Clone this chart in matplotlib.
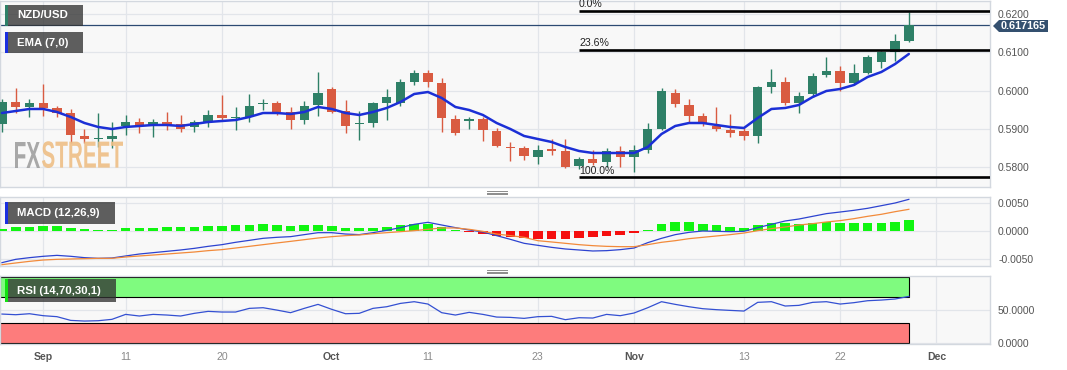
import numpy as np
import pandas as pd
import matplotlib
matplotlib.use("Agg")
import matplotlib.pyplot as plt
from matplotlib.patches import Rectangle, Polygon, PathPatch
from matplotlib.lines import Line2D
from matplotlib.textpath import TextPath
from matplotlib.font_manager import FontProperties
from matplotlib.transforms import Affine2D, IdentityTransform

plt.rcParams['font.family'] = ['Liberation Sans', 'DejaVu Sans']

# ---------------- data ----------------
start_date = "2023-08-29"
end_axis_date = "2023-12-01"

opens = [0.5913, 0.5970, 0.5957, 0.5968, 0.5955, 0.5942, 0.5882, 0.5874, 0.5874, 0.5908,
         0.5918, 0.5908, 0.5918, 0.5913, 0.5905, 0.5918, 0.5936, 0.5929, 0.5931, 0.5965,
         0.5968, 0.5944, 0.5923, 0.5962, 0.6004, 0.5947, 0.5913, 0.5915, 0.5968, 0.5968,
         0.6022, 0.6046, 0.6020, 0.5926, 0.5921, 0.5926, 0.5894, 0.5853, 0.5850, 0.5827,
         0.5848, 0.5842, 0.5803, 0.5821, 0.5814, 0.5842, 0.5827, 0.5845, 0.5900, 0.5994,
         0.5962, 0.5934, 0.5908, 0.5897, 0.5895, 0.5882, 0.6009, 0.6022, 0.5968, 0.5991,
         0.6041, 0.6051, 0.6020, 0.6046, 0.6075, 0.6101, 0.6130]
highs = [0.5978, 0.6007, 0.5978, 0.6017, 0.5960, 0.5952, 0.5900, 0.5942, 0.5918, 0.5936,
         0.5929, 0.5926, 0.5944, 0.5936, 0.5923, 0.5949, 0.5988, 0.5957, 0.5991, 0.5978,
         0.5973, 0.5957, 0.5973, 0.6049, 0.6009, 0.5975, 0.5947, 0.5970, 0.6004, 0.6030,
         0.6054, 0.6054, 0.6033, 0.5936, 0.5931, 0.5931, 0.5902, 0.5866, 0.5855, 0.5858,
         0.5874, 0.5874, 0.5827, 0.5845, 0.5850, 0.5855, 0.5858, 0.5915, 0.6007, 0.6004,
         0.5978, 0.5942, 0.5957, 0.5939, 0.5902, 0.6012, 0.6056, 0.6036, 0.5996, 0.6046,
         0.6088, 0.6064, 0.6069, 0.6093, 0.6103, 0.6148, 0.6205]
lows = [0.5892, 0.5941, 0.5931, 0.5934, 0.5931, 0.5863, 0.5863, 0.5853, 0.5850, 0.5884,
        0.5889, 0.5879, 0.5897, 0.5892, 0.5892, 0.5905, 0.5923, 0.5897, 0.5918, 0.5949,
        0.5936, 0.5900, 0.5913, 0.5934, 0.5942, 0.5889, 0.5871, 0.5905, 0.5923, 0.5960,
        0.6015, 0.6009, 0.5892, 0.5884, 0.5900, 0.5868, 0.5853, 0.5816, 0.5819, 0.5808,
        0.5832, 0.5798, 0.5795, 0.5806, 0.5801, 0.5801, 0.5788, 0.5837, 0.5897, 0.5957,
        0.5915, 0.5908, 0.5895, 0.5879, 0.5871, 0.5863, 0.5994, 0.5962, 0.5942, 0.5983,
        0.6036, 0.5999, 0.6015, 0.6043, 0.6059, 0.6077, 0.6127]
closes = [0.5970, 0.5957, 0.5968, 0.5955, 0.5942, 0.5884, 0.5874, 0.5876, 0.5882, 0.5918,
          0.5908, 0.5918, 0.5910, 0.5900, 0.5918, 0.5936, 0.5928, 0.5931, 0.5960, 0.5968,
          0.5944, 0.5923, 0.5960, 0.5994, 0.5944, 0.5908, 0.5915, 0.5968, 0.5983, 0.6022,
          0.6046, 0.6022, 0.5928, 0.5889, 0.5926, 0.5897, 0.5855, 0.5850, 0.5829, 0.5845,
          0.5842, 0.5801, 0.5821, 0.5811, 0.5842, 0.5827, 0.5845, 0.5900, 0.5999, 0.5965,
          0.5934, 0.5915, 0.5900, 0.5889, 0.5882, 0.6009, 0.6022, 0.5968, 0.5986, 0.6038,
          0.6051, 0.6020, 0.6046, 0.6088, 0.6101, 0.6130, 0.617165]
ema7 = [0.59415, 0.59467, 0.59520, 0.59520, 0.59441, 0.59311, 0.59154, 0.59050, 0.58997, 0.59050,
        0.59076, 0.59102, 0.59102, 0.59076, 0.59128, 0.59180, 0.59206, 0.59232, 0.59311, 0.59415,
        0.59415, 0.59389, 0.59441, 0.59572, 0.59520, 0.59415, 0.59363, 0.59441, 0.59546, 0.59702,
        0.59911, 0.59963, 0.59807, 0.59572, 0.59493, 0.59363, 0.59154, 0.58997, 0.58815, 0.58736,
        0.58658, 0.58527, 0.58423, 0.58371, 0.58371, 0.58371, 0.58371, 0.58527, 0.58867, 0.59076,
        0.59154, 0.59154, 0.59102, 0.59050, 0.59024, 0.59285, 0.59520, 0.59546, 0.59624, 0.59833,
        0.59990, 0.60042, 0.60146, 0.60355, 0.60486, 0.60694, 0.60956]

macd_line = [-0.00565, -0.00506, -0.00476, -0.00452, -0.00435, -0.00452, -0.00476, -0.00488, -0.00482, -0.00446,
             -0.00411, -0.00387, -0.00363, -0.00339, -0.00310, -0.00274, -0.00244, -0.00202, -0.00167, -0.00131,
             -0.00113, -0.00101, -0.00065, -0.00030, -0.00030, -0.00054, -0.00065, -0.00030, 0.00012, 0.00060,
             0.00119, 0.00155, 0.00107, 0.00060, 0.00018, -0.00018, -0.00083, -0.00149, -0.00220, -0.00256,
             -0.00292, -0.00321, -0.00339, -0.00357, -0.00351, -0.00333, -0.00304, -0.00208, -0.00131, -0.00065,
             -0.00024, 0.00000, -0.00006, -0.00012, -0.00006, 0.00060, 0.00119, 0.00179, 0.00214, 0.00262,
             0.00310, 0.00339, 0.00369, 0.00405, 0.00452, 0.00500, 0.00565]
signal_line = [-0.00601, -0.00571, -0.00542, -0.00518, -0.00506, -0.00500, -0.00494, -0.00488, -0.00488, -0.00464,
               -0.00446, -0.00429, -0.00411, -0.00393, -0.00375, -0.00351, -0.00333, -0.00304, -0.00274, -0.00244,
               -0.00214, -0.00185, -0.00155, -0.00125, -0.00101, -0.00083, -0.00071, -0.00048, -0.00030, -0.00012,
               0.00006, 0.00030, 0.00054, 0.00054, 0.00030, -0.00006, -0.00054, -0.00083, -0.00113, -0.00173,
               -0.00196, -0.00220, -0.00244, -0.00262, -0.00274, -0.00280, -0.00280, -0.00244, -0.00202, -0.00173,
               -0.00137, -0.00113, -0.00089, -0.00065, -0.00036, 0.00006, 0.00042, 0.00071, 0.00107, 0.00131,
               0.00161, 0.00185, 0.00220, 0.00262, 0.00298, 0.00345, 0.00387]
macd_hist = [0.00036, 0.00071, 0.00071, 0.00083, 0.00083, 0.00054, 0.00030, 0.00018, 0.00018, 0.00054,
             0.00054, 0.00060, 0.00065, 0.00071, 0.00077, 0.00089, 0.00095, 0.00101, 0.00113, 0.00125,
             0.00113, 0.00095, 0.00101, 0.00113, 0.00095, 0.00054, 0.00048, 0.00060, 0.00077, 0.00101,
             0.00125, 0.00131, 0.00071, 0.00012, -0.00024, -0.00048, -0.00089, -0.00107, -0.00125, -0.00137,
             -0.00137, -0.00143, -0.00125, -0.00113, -0.00083, -0.00065, -0.00042, 0.00024, 0.00119, 0.00161,
             0.00161, 0.00131, 0.00101, 0.00071, 0.00048, 0.00113, 0.00149, 0.00143, 0.00131, 0.00149,
             0.00161, 0.00143, 0.00143, 0.00149, 0.00149, 0.00161, 0.00190]
rsi14 = [43.8, 42.8, 44.3, 41.3, 39.8, 34.1, 33.1, 33.6, 35.7, 43.3,
         40.8, 43.3, 42.3, 40.8, 44.9, 47.9, 46.9, 46.9, 52.5, 53.5,
         49.9, 45.9, 52.5, 58.6, 51.0, 44.3, 44.9, 52.5, 55.0, 60.1,
         62.7, 59.1, 45.9, 42.3, 46.4, 43.3, 39.2, 38.7, 37.2, 39.8,
         40.3, 35.2, 38.2, 37.7, 43.3, 41.3, 45.4, 53.5, 62.7, 58.6,
         55.0, 52.0, 50.5, 49.4, 48.4, 61.7, 62.7, 56.1, 57.1, 61.7,
         62.7, 59.1, 61.2, 64.2, 65.2, 66.8, 70.8]

fib_labels = ["0.0%", "23.6%", "100.0%"]
fib_prices = [0.6208, 0.6106, 0.5774]
fib_start_date = "2023-10-26"

tick_dates = ["2023-09-01", "2023-09-11", "2023-09-20", "2023-10-02", "2023-10-11",
              "2023-10-23", "2023-11-01", "2023-11-13", "2023-11-22", "2023-12-01"]
tick_labels = ["Sep", "11", "20", "Oct", "11", "23", "Nov", "13", "22", "Dec"]
month_labels = {"Sep", "Oct", "Nov", "Dec"}

price_ticks = [0.58, 0.59, 0.60, 0.61, 0.62]
macd_ticks = [-0.005, 0.0, 0.005]
rsi_ticks = [0, 50]
last_price = closes[-1]

# ---------------- layout ----------------
W, H = 1067, 370
fig = plt.figure(figsize=(W / 100, H / 100), dpi=100)
fig.patch.set_facecolor("white")

AX_RIGHT = 990


def make_axes(top, bottom):
    return fig.add_axes([0, 1 - bottom / H, AX_RIGHT / W, (bottom - top) / H])


ax = make_axes(1, 187)
axm = make_axes(197, 266)
axr = make_axes(276, 344)

dates = pd.bdate_range(start_date, end_axis_date)
x = np.arange(len(closes))
tick_pos = dates.get_indexer(pd.to_datetime(tick_dates))
step = 13.74
xlim = (-2 / step, (AX_RIGHT - 2) / step)

grid_c = "#e2e5ea"
spine_c = "#d3d8df"
for a in (ax, axm, axr):
    a.set_facecolor("#f8f8f8")
    a.set_xlim(*xlim)
    a.set_xticks(tick_pos)
    a.grid(True, color=grid_c, lw=0.9)
    a.set_axisbelow(True)
    for s in a.spines.values():
        s.set_color(spine_c)
        s.set_linewidth(1)
    a.yaxis.tick_right()
    a.tick_params(axis="y", length=0, pad=5.8, labelsize=7.5, labelcolor="#555555")
    a.tick_params(axis="x", length=0)
ax.set_xticklabels([])
axm.set_xticklabels([])

# ---------------- main candles ----------------
up_c = "#2e8067"
dn_c = "#d95b41"
o = np.array(opens); c = np.array(closes); h = np.array(highs); l = np.array(lows)
cols = np.where(c >= o, up_c, dn_c)
ax.vlines(x, l, h, colors=cols, lw=1.0, zorder=3)
bottoms = np.minimum(o, c)
heights = np.maximum(np.abs(c - o), 0.00005)
ax.bar(x, heights, bottom=bottoms, width=0.68, color=cols, zorder=4, linewidth=0)
ax.plot(x, ema7, color="#1b2fd6", lw=1.8, zorder=5, solid_capstyle="round")

ax.set_ylim(0.57483, 0.62339)
ax.set_yticks(price_ticks)
ax.set_yticklabels([f"{v:.4f}" for v in price_ticks])

# current price line
ax.axhline(last_price, color="#2c4a72", lw=0.9, zorder=2)

# fibonacci
fib_x0 = dates.get_loc(pd.Timestamp(fib_start_date))
for lab, p in zip(fib_labels, fib_prices):
    ax.plot([fib_x0, xlim[1]], [p, p], color="black", lw=1.9, zorder=6, solid_capstyle="butt")
    ax.text(fib_x0, p + 0.0004, lab, fontsize=7.6, color="#222222", ha="left", va="bottom", zorder=7)

# ---------------- MACD ----------------
hist = np.array(macd_hist)
hcols = np.where(hist >= 0, "#11f511", "#f50f0f")
axm.bar(x, hist, width=0.7, color=hcols, zorder=3, linewidth=0)
axm.plot(x, macd_line, color="#2d43d0", lw=0.9, zorder=4)
axm.plot(x, signal_line, color="#f28a3a", lw=0.9, zorder=4)
axm.set_ylim(-0.00625, 0.00607)
axm.set_yticks(macd_ticks)
axm.set_yticklabels([f"{v:.4f}" for v in macd_ticks])

# ---------------- RSI ----------------
axr.set_ylim(-2, 102)
band_x0 = xlim[0]
band_w = x[-1] - band_x0
axr.add_patch(Rectangle((band_x0, 70), band_w, 30, facecolor="#7ffb7f", edgecolor="black", lw=0.8, zorder=2))
axr.add_patch(Rectangle((band_x0, 0), band_w, 30, facecolor="#fd7c7c", edgecolor="black", lw=0.8, zorder=2))
axr.plot(x, rsi14, color="#3450d2", lw=0.9, zorder=4)
axr.set_yticks(rsi_ticks)
axr.set_yticklabels([f"{v:.4f}" for v in rsi_ticks])
axr.set_xticklabels(tick_labels)
axr.tick_params(axis="x", pad=5.5, labelsize=7.6)
for t in axr.get_xticklabels():
    if t.get_text() in month_labels:
        t.set_fontweight("bold")
        t.set_color("#555555")
    else:
        t.set_color("#8a8a8a")


# ---------------- overlay boxes (figure pixel coords) ----------------
def fig_rect(x0, y0, w, h, **kw):
    r = Rectangle((x0 / W, 1 - (y0 + h) / H), w / W, h / H, transform=fig.transFigure, **kw)
    fig.add_artist(r)


def label_box(text, x0, y0, w, h, accent):
    fig_rect(x0, y0, w, h, facecolor="#333333", alpha=0.78, lw=0, zorder=10)
    fig_rect(x0, y0, 3, h, facecolor=accent, lw=0, zorder=11)
    fig.text((x0 + 12) / W, 1 - (y0 + h / 2) / H, text, color="white", fontsize=8.2,
             fontweight="bold", ha="left", va="center", zorder=12)


label_box("NZD/USD", 5, 5, 78, 21, "#2e8067")
label_box("EMA (7,0)", 5, 32, 78, 21, "#1b2fe0")
label_box("MACD (12,26,9)", 5, 202, 110, 22, "#1b2fe0")
label_box("RSI (14,70,30,1)", 5, 279, 111, 23, "#11e011")

# price tag
pts = [(993, 26), (999, 20), (1048, 20), (1048, 32), (999, 32)]
tag = Polygon([(px / W, 1 - py / H) for px, py in pts], closed=True, transform=fig.transFigure,
              facecolor="#34506f", edgecolor="none", zorder=10)
fig.add_artist(tag)
fig.text(1023.5 / W, 1 - 26 / H, f"{last_price:.6f}", color="white", fontsize=7.8,
         fontweight="bold", ha="center", va="center", zorder=12)

# panel handles
for yc in (192.5, 271.5):
    for dy in (-1.8, 0, 1.8):
        fig.add_artist(Line2D([487 / W, 507 / W], [1 - (yc + dy) / H] * 2, transform=fig.transFigure,
                              color="#8c8c8c", lw=0.7, zorder=10))

# watermark
fp = FontProperties(family="Liberation Sans", weight="bold")
p_fx = TextPath((0, 0), "FX", size=36, prop=fp)
p_st = TextPath((0, 0), "STREET", size=36, prop=fp)
e_fx = p_fx.get_extents()
e_st = p_st.get_extents()
sx = 25 / e_fx.width
sy = 26 / e_fx.height
x0_px, base_px = 15, H - 168
t1 = Affine2D().translate(-e_fx.x0, -e_fx.y0).scale(sx, sy).translate(x0_px, base_px)
sx2 = 81 / e_st.width
t2 = Affine2D().translate(-e_st.x0, -e_st.y0).scale(sx2, sy).translate(42, base_px)
fig.add_artist(PathPatch(t1.transform_path(p_fx), transform=IdentityTransform(),
                         facecolor="#9a9a9a", edgecolor="none", alpha=0.85, zorder=1.5))
fig.add_artist(PathPatch(t2.transform_path(p_st), transform=IdentityTransform(),
                         facecolor="#eebf86", edgecolor="none", alpha=0.9, zorder=1.5))

fig.savefig("out.png", dpi=100)
